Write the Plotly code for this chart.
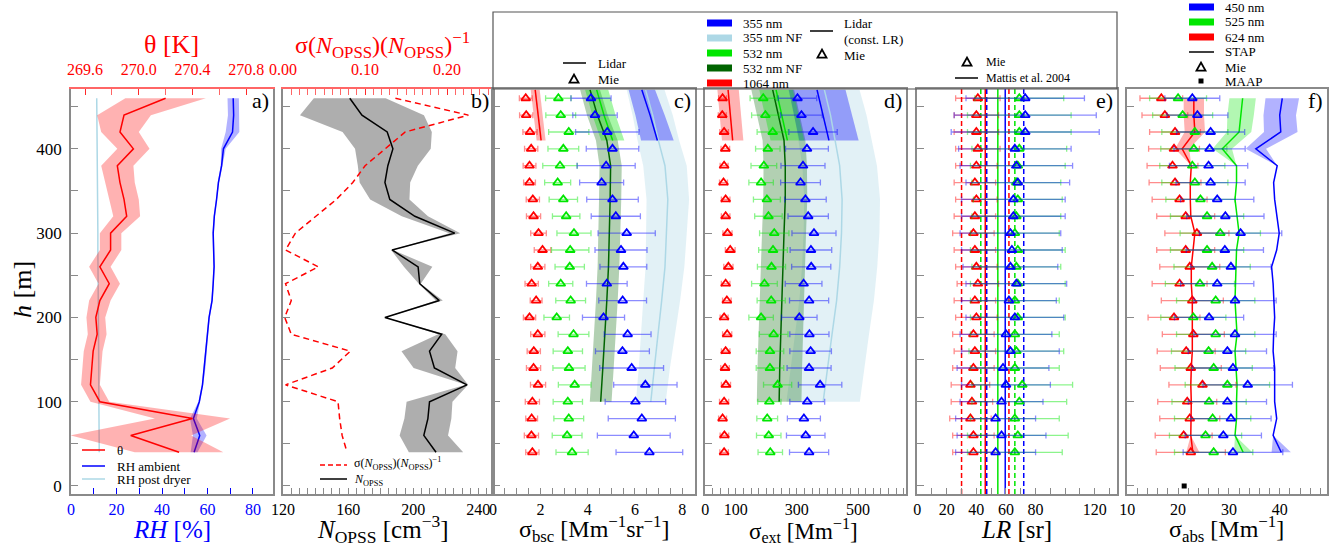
import plotly.graph_objects as go

W, H = 1336, 547
FONT = "Liberation Serif"
FRAME = "#8a8a8a"

# ---------------- data ----------------
heights = [460, 440, 420, 400, 380, 360, 340, 320, 300, 280, 260, 240, 220, 200,
           180, 160, 140, 120, 100, 80, 60, 40]

# panel a
theta = [270.20, 269.89, 269.86, 269.96, 269.84, 269.86, 269.89, 269.91, 269.79, 269.79, 269.71,
         269.78, 269.71, 269.68, 269.69, 269.66, 269.65, 269.64, 269.71, 270.40, 269.94, 270.30]
theta_sd = [0.30, 0.20, 0.14, 0.12, 0.12, 0.11, 0.11, 0.10, 0.08, 0.08, 0.08,
            0.08, 0.08, 0.07, 0.07, 0.07, 0.07, 0.07, 0.07, 0.28, 0.45, 0.33]
rh_ambient = [71.3, 71.5, 71.0, 67.0, 66.2, 64.8, 64.0, 63.0, 62.5, 62.7, 62.9,
              62.5, 62.0, 60.7, 60.0, 59.3, 58.8, 57.8, 56.4, 53.8, 56.6, 54.1]
rh_ambient_sd = [2.5, 2.5, 3.0, 1.0, 0.4, 0.3, 0.3, 0.3, 0.3, 0.3, 0.3,
                 0.3, 0.3, 0.3, 0.3, 0.3, 0.3, 0.3, 0.4, 1.5, 3.0, 1.5]
rh_dryer = [11.3, 11.4, 11.4, 11.5, 11.6, 11.6, 11.7, 11.7, 11.8, 11.8, 11.9,
            11.9, 12.0, 12.0, 12.1, 12.1, 12.2, 12.2, 12.3, 12.3, 12.3, 12.4]

# panel b
n_opss = [161, 168.5, 184, 187.5, 184.4, 182.6, 185.6, 201, 225.5, 187, 203,
          204, 216, 182.6, 217.5, 210, 213, 233, 210, 209, 206.5, 214]
n_rel_sd = [0.137, 0.226, 0.149, 0.124, 0.100, 0.085, 0.065, 0.040, 0.015, 0.003, 0.043,
            0.003, 0.010, 0.002, 0.010, 0.082, 0.060, 0.003, 0.067, 0.069, 0.072, 0.078]

# panel c (backscatter)
bsc_mie_1064 = [1.38, 1.40, 1.56, 1.61, 1.54, 1.54, 1.68, 1.71, 1.92, 2.09, 1.89,
                1.63, 1.82, 1.54, 1.89, 1.72, 1.71, 1.90, 1.66, 1.63, 1.62, 1.66]
bsc_mie_1064_err = [0.27, 0.28, 0.30, 0.28, 0.27, 0.25, 0.28, 0.30, 0.33, 0.35, 0.30,
                    0.28, 0.25, 0.26, 0.30, 0.28, 0.30, 0.32, 0.30, 0.25, 0.30, 0.28]
bsc_mie_532 = [2.76, 2.86, 3.20, 2.97, 2.83, 2.73, 2.97, 3.09, 3.42, 3.26, 3.24,
               2.86, 3.28, 2.69, 3.40, 3.16, 3.21, 3.45, 3.16, 3.20, 3.13, 3.34]
bsc_mie_532_err = [0.54, 0.63, 0.85, 0.65, 0.73, 0.55, 0.60, 0.58, 0.72, 0.79, 0.62,
                   0.51, 0.63, 0.54, 0.65, 0.62, 0.68, 0.69, 0.62, 0.63, 0.63, 0.68]
bsc_mie_355 = [4.14, 4.31, 4.83, 5.05, 4.78, 4.59, 5.05, 5.19, 5.65, 5.41, 5.51,
               4.81, 5.48, 4.67, 5.69, 5.47, 5.86, 6.44, 6.02, 6.29, 5.95, 6.61]
bsc_mie_355_err = [0.85, 0.94, 1.34, 1.11, 1.23, 0.93, 1.09, 1.04, 1.21, 1.10, 0.99,
                   0.86, 1.01, 0.89, 0.99, 1.14, 1.35, 1.34, 1.28, 1.42, 1.54, 1.41]

lidar_nf_h = [470, 440, 410, 380, 340, 300, 260, 220, 180, 140, 100]
lidar_ff_h = [470, 440, 410]
bsc_lid_532nf = [4.10, 4.41, 4.81, 4.97, 4.95, 4.92, 4.88, 4.81, 4.74, 4.64, 4.55]
bsc_lid_532nf_err = [0.42, 0.44, 0.46, 0.47, 0.47, 0.47, 0.46, 0.46, 0.46, 0.46, 0.46]
bsc_lid_355nf = [6.45, 6.75, 6.99, 7.27, 7.39, 7.34, 7.27, 7.13, 6.99, 6.82, 6.67]
bsc_lid_355nf_err = [0.80, 0.85, 0.88, 0.92, 0.90, 0.86, 0.82, 0.78, 0.72, 0.66, 0.63]
bsc_lid_355 = [6.29, 6.64, 6.95]
bsc_lid_355_err = [0.56, 0.62, 0.69]
bsc_lid_532 = [4.38, 4.69, 5.06]
bsc_lid_532_err = [0.49, 0.49, 0.49]
bsc_lid_1064 = [1.78, 1.89, 2.03]
bsc_lid_1064_err = [0.19, 0.19, 0.19]

# panel d (extinction)
ext_mie_1064 = [57, 56, 62, 66, 62, 60, 67, 67, 73, 82, 76, 67, 71, 62, 72, 67, 65, 68, 62, 57, 63, 62]
ext_mie_1064_err = [13, 13, 14, 14, 13, 13, 14, 14, 15, 16, 15, 14, 14, 13, 15, 14, 14, 15, 15, 13, 14, 14]
ext_mie_532 = [190, 197, 221, 205, 192, 183, 202, 207, 226, 222, 217, 194, 216, 183, 224, 212, 212, 237, 210, 203, 208, 213]
ext_mie_532_err = [43, 45, 51, 40, 42, 40, 44, 45, 48, 47, 46, 42, 46, 40, 47, 45, 45, 46, 38, 34, 40, 40]
ext_mie_355 = [302, 315, 353, 333, 320, 312, 328, 337, 356, 346, 347, 322, 340, 308, 341, 345, 340, 376, 334, 323, 329, 340]
ext_mie_355_err = [63, 68, 79, 70, 72, 65, 68, 66, 72, 68, 64, 60, 64, 58, 64, 68, 72, 71, 57, 54, 63, 64]

ext_lid_532nf = [221, 240, 258, 262, 262, 258, 254, 250, 247, 244, 242]
ext_lid_532nf_err = [70, 70, 70, 71, 72, 72, 72, 72, 73, 73, 73]
ext_lid_355nf = [390, 410, 425, 440, 448, 446, 440, 430, 415, 400, 386]
ext_lid_355nf_err = [115, 118, 120, 122, 124, 124, 123, 122, 121, 120, 120]
ext_lid_355 = [366, 386, 405]
ext_lid_355_err = [93, 95, 97]
ext_lid_532 = [232, 250, 269]
ext_lid_532_err = [55, 55, 55]
ext_lid_1064 = [75, 83, 90]
ext_lid_1064_err = [35, 35, 35]

# panel e (lidar ratio)
lr_mie_1064 = [41, 40, 40, 41, 40, 39, 40, 39, 38, 39, 40, 41, 39, 40, 38, 39, 38, 36, 37, 36, 38, 38]
lr_mie_1064_err = [15, 15, 15, 15, 14, 14, 14, 14, 14, 14, 14, 14, 14, 14, 14, 14, 14, 13, 14, 14, 14, 14]
lr_mie_532 = [69, 69, 69, 69, 68, 67, 68, 67, 66, 68, 67, 68, 66, 68, 66, 67, 66, 71, 69, 66, 68, 66]
lr_mie_532_err = [30, 35, 35, 32, 32, 30, 30, 30, 30, 32, 30, 32, 30, 32, 30, 32, 30, 34, 32, 30, 34, 32]
lr_mie_355 = [73, 73, 73, 66, 67, 68, 65, 65, 63, 64, 63, 67, 62, 66, 60, 63, 58, 60, 57, 53, 57, 53]
lr_mie_355_err = [40, 48, 50, 38, 38, 35, 35, 35, 34, 34, 32, 34, 32, 33, 31, 33, 31, 30, 28, 27, 30, 27]
mattis_lr = {"1064": 46.0, "532": 54.5, "355": 59.5}
mattis_sd = {"1064": 16.0, "532": 11.5, "355": 12.5}

# panel f (absorption)
abs_mie_624 = [16.7, 17.4, 19.4, 19.2, 18.9, 19.4, 20.3, 21.5, 23.7, 21.5, 22.3,
               20.3, 22.8, 19.2, 23.0, 21.6, 22.5, 24.8, 21.8, 22.3, 21.1, 22.5]
abs_mie_624_err = [4.2, 4.5, 5.0, 5.0, 5.0, 5.1, 5.4, 5.7, 6.3, 5.7, 5.9,
                   5.4, 6.1, 5.1, 6.1, 5.7, 6.0, 6.6, 5.8, 5.9, 5.6, 6.8]
abs_mie_525 = [20.0, 20.9, 23.3, 23.1, 22.8, 23.3, 24.4, 25.7, 28.3, 25.7, 26.7,
               24.3, 27.4, 23.0, 27.4, 26.0, 27.0, 29.7, 26.1, 26.8, 25.4, 27.0]
abs_mie_525_err = [5.6, 5.9, 6.5, 6.5, 6.4, 6.5, 6.8, 7.2, 7.9, 7.2, 7.5,
                   6.8, 7.7, 6.4, 7.7, 7.3, 7.6, 8.3, 7.3, 7.5, 7.1, 7.7]
abs_mie_450 = [22.8, 23.8, 26.4, 26.2, 26.0, 26.4, 27.7, 29.3, 32.3, 29.2, 30.4,
               27.7, 31.2, 26.1, 31.2, 29.7, 30.8, 33.7, 29.7, 30.4, 28.9, 30.8]
abs_mie_450_err = [5.4, 6.0, 6.7, 7.0, 7.7, 6.8, 7.2, 7.6, 8.1, 7.6, 7.9,
                   7.2, 8.1, 6.8, 8.1, 7.7, 8.0, 8.8, 7.7, 7.9, 7.5, 9.8]
abs_stap_624 = [23.1, 23.1, 23.3, 20.8, 22.6, 22.4, 22.4, 22.5, 23.3, 23.0, 22.6,
                22.6, 22.8, 22.8, 22.8, 22.8, 22.6, 22.5, 22.6, 22.5, 22.5, 22.9]
abs_stap_624_sd = [2.0, 2.0, 2.0, 1.4, 0, 0, 0, 0, 0, 0, 0, 0, 0, 0, 0, 0, 0, 0, 0, 0, 0, 1.3]
abs_stap_525 = [32.7, 32.3, 32.0, 28.7, 31.5, 31.5, 31.2, 31.6, 32.0, 31.5, 31.4,
                31.2, 31.2, 31.4, 31.6, 31.2, 31.4, 31.6, 31.5, 31.5, 31.2, 32.8]
abs_stap_525_sd = [2.6, 2.6, 2.4, 1.9, 0, 0, 0, 0, 0, 0, 0, 0, 0, 0, 0, 0, 0, 0, 0, 0, 0, 1.8]
abs_stap_450 = [40.5, 40.0, 40.2, 35.3, 39.5, 38.8, 39.0, 39.4, 39.9, 39.4, 38.4,
                38.7, 38.9, 39.0, 38.8, 38.7, 39.0, 39.0, 39.0, 39.4, 38.7, 40.3]
abs_stap_450_sd = [3.3, 3.2, 3.3, 2.0, 0, 0, 0, 0, 0, 0, 0, 0, 0, 0, 0, 0, 0, 0, 0, 0, 0, 1.9]
maap_abs = [21.2]
maap_h = [0]

Y_RANGE = [-9.5, 471]

# ---------------- colours ----------------
RED = "#ff0000"
BLUE = "#0000ff"
LBLUE = "#add8e6"
LIME = "#00e600"
DGREEN = "#006400"

def rgba(hexc, a):
    h = hexc.lstrip("#")
    return f"rgba({int(h[0:2],16)},{int(h[2:4],16)},{int(h[4:6],16)},{a})"

fig = go.Figure()

def band(xc, sd, h, color, xa, ya):
    lo = [a - b for a, b in zip(xc, sd)]
    hi = [a + b for a, b in zip(xc, sd)]
    fig.add_trace(go.Scatter(x=lo + hi[::-1], y=list(h) + list(h)[::-1], mode="lines",
                             fill="toself", fillcolor=color, line=dict(width=0),
                             xaxis=xa, yaxis=ya, showlegend=False, hoverinfo="skip"))

def line(xv, h, color, xa, ya, width=1.5, dash="solid"):
    fig.add_trace(go.Scatter(x=xv, y=h, mode="lines", line=dict(color=color, width=width, dash=dash),
                             xaxis=xa, yaxis=ya, showlegend=False))

def mie(xv, err, h, color, xa, ya):
    fig.add_trace(go.Scatter(x=xv, y=h, mode="markers",
                             marker=dict(symbol="triangle-up-open", size=8, color=color,
                                         line=dict(width=1.8, color=color)),
                             error_x=dict(type="data", array=err, color=rgba(color, 0.45),
                                          thickness=1.3, width=3),
                             xaxis=xa, yaxis=ya, showlegend=False))

# ---- panel a ----
band(rh_ambient, rh_ambient_sd, heights, rgba(BLUE, 0.3), "x", "y")
line(rh_ambient, heights, BLUE, "x", "y")
line(rh_dryer, heights, LBLUE, "x", "y")
band(theta, theta_sd, heights, rgba(RED, 0.3), "x2", "y")
line(theta, heights, RED, "x2", "y")

# ---- panel b ----
n_lo = [n * (1 - r) for n, r in zip(n_opss, n_rel_sd)]
n_hi = [n * (1 + r) for n, r in zip(n_opss, n_rel_sd)]
fig.add_trace(go.Scatter(x=n_lo + n_hi[::-1], y=heights + heights[::-1], mode="lines", fill="toself",
                         fillcolor="rgba(120,120,120,0.6)", line=dict(width=0),
                         xaxis="x3", yaxis="y2", showlegend=False, hoverinfo="skip"))
line(n_opss, heights, "black", "x3", "y2")
line(n_rel_sd, heights, RED, "x4", "y2", dash="6px,4px")

# ---- panel c ----
band(bsc_lid_355nf, bsc_lid_355nf_err, lidar_nf_h, rgba(LBLUE, 0.35), "x5", "y3")
band(bsc_lid_532nf, bsc_lid_532nf_err, lidar_nf_h, rgba(DGREEN, 0.3), "x5", "y3")
band(bsc_lid_355, bsc_lid_355_err, lidar_ff_h, rgba(BLUE, 0.35), "x5", "y3")
band(bsc_lid_532, bsc_lid_532_err, lidar_ff_h, rgba(LIME, 0.35), "x5", "y3")
band(bsc_lid_1064, bsc_lid_1064_err, lidar_ff_h, rgba(RED, 0.3), "x5", "y3")
line(bsc_lid_355nf, lidar_nf_h, LBLUE, "x5", "y3")
line(bsc_lid_532nf, lidar_nf_h, DGREEN, "x5", "y3")
line(bsc_lid_355, lidar_ff_h, BLUE, "x5", "y3")
line(bsc_lid_532, lidar_ff_h, LIME, "x5", "y3")
line(bsc_lid_1064, lidar_ff_h, RED, "x5", "y3")
mie(bsc_mie_1064, bsc_mie_1064_err, heights, RED, "x5", "y3")
mie(bsc_mie_532, bsc_mie_532_err, heights, LIME, "x5", "y3")
mie(bsc_mie_355, bsc_mie_355_err, heights, BLUE, "x5", "y3")

# ---- panel d ----
band(ext_lid_355nf, ext_lid_355nf_err, lidar_nf_h, rgba(LBLUE, 0.35), "x6", "y4")
band(ext_lid_532nf, ext_lid_532nf_err, lidar_nf_h, rgba(DGREEN, 0.3), "x6", "y4")
band(ext_lid_355, ext_lid_355_err, lidar_ff_h, rgba(BLUE, 0.35), "x6", "y4")
band(ext_lid_532, ext_lid_532_err, lidar_ff_h, rgba(LIME, 0.35), "x6", "y4")
band(ext_lid_1064, ext_lid_1064_err, lidar_ff_h, rgba(RED, 0.3), "x6", "y4")
line(ext_lid_355nf, lidar_nf_h, LBLUE, "x6", "y4")
line(ext_lid_532nf, lidar_nf_h, DGREEN, "x6", "y4")
line(ext_lid_355, lidar_ff_h, BLUE, "x6", "y4")
line(ext_lid_532, lidar_ff_h, LIME, "x6", "y4")
line(ext_lid_1064, lidar_ff_h, RED, "x6", "y4")
mie(ext_mie_1064, ext_mie_1064_err, heights, RED, "x6", "y4")
mie(ext_mie_532, ext_mie_532_err, heights, LIME, "x6", "y4")
mie(ext_mie_355, ext_mie_355_err, heights, BLUE, "x6", "y4")

# ---- panel e ----
for key, col in (("1064", RED), ("532", LIME), ("355", BLUE)):
    m, s = mattis_lr[key], mattis_sd[key]
    line([m, m], Y_RANGE, col, "x7", "y5")
    line([m - s, m - s], Y_RANGE, col, "x7", "y5", dash="5px,3px")
    line([m + s, m + s], Y_RANGE, col, "x7", "y5", dash="5px,3px")
mie(lr_mie_1064, lr_mie_1064_err, heights, RED, "x7", "y5")
mie(lr_mie_532, lr_mie_532_err, heights, LIME, "x7", "y5")
mie(lr_mie_355, lr_mie_355_err, heights, BLUE, "x7", "y5")

# ---- panel f ----
band(abs_stap_450, abs_stap_450_sd, heights, rgba(BLUE, 0.3), "x8", "y6")
band(abs_stap_525, abs_stap_525_sd, heights, rgba(LIME, 0.3), "x8", "y6")
band(abs_stap_624, abs_stap_624_sd, heights, rgba(RED, 0.3), "x8", "y6")
line(abs_stap_450, heights, BLUE, "x8", "y6")
line(abs_stap_525, heights, LIME, "x8", "y6")
line(abs_stap_624, heights, RED, "x8", "y6")
mie(abs_mie_624, abs_mie_624_err, heights, RED, "x8", "y6")
mie(abs_mie_525, abs_mie_525_err, heights, LIME, "x8", "y6")
mie(abs_mie_450, abs_mie_450_err, heights, BLUE, "x8", "y6")
fig.add_trace(go.Scatter(x=maap_abs, y=maap_h, mode="markers",
                         marker=dict(symbol="square", size=5, color="black"),
                         xaxis="x8", yaxis="y6", showlegend=False))

# ---------------- layout ----------------
def px(x):
    return x / W

def py(y):
    return 1 - y / H

YDOM = [py(494), py(89)]

def xaxis(x0, x1, rng, tickvals, ticktext, minor, anchor, color="black", tickcolor=FRAME, mirror=True):
    return dict(domain=[px(x0), px(x1)], range=rng, anchor=anchor, showgrid=False, zeroline=False,
                automargin=False,
                showline=True, linecolor=FRAME, linewidth=1.5, mirror=mirror,
                ticks="inside", ticklen=6, tickcolor=tickcolor, tickwidth=1,
                tickvals=tickvals, ticktext=ticktext,
                tickfont=dict(family=FONT, size=16, color=color),
                minor=dict(ticks="inside", ticklen=6, tick0=0, dtick=minor, tickcolor=tickcolor,
                           showgrid=False))

def topaxis(overlay, anchor, rng, tickvals, ticktext, minor):
    return dict(overlaying=overlay, side="top", anchor=anchor, range=rng, showgrid=False,
                zeroline=False, automargin=False,
                showline=True, linecolor=rgba(RED, 0.6), linewidth=1.5,
                ticks="inside", ticklen=6, tickcolor=rgba(RED, 0.6),
                tickvals=tickvals, ticktext=ticktext, ticklabelstandoff=6,
                tickfont=dict(family=FONT, size=16, color=RED),
                minor=dict(ticks="inside", ticklen=6, tick0=0, dtick=minor,
                           tickcolor=rgba(RED, 0.6), showgrid=False))

def yaxis(anchor, labels=False):
    d = dict(domain=YDOM, range=Y_RANGE, anchor=anchor, showgrid=False, zeroline=False,
             automargin=False,
             showline=True, linecolor=FRAME, linewidth=1.5, mirror=True,
             ticks="inside", ticklen=7, tickcolor=FRAME,
             tickvals=list(range(0, 451, 50)), showticklabels=labels,
             tickfont=dict(family=FONT, size=17, color="black"))
    if labels:
        d["ticktext"] = ["0", "", "100", "", "200", "", "300", "", "400", ""]
        d["ticklabelstandoff"] = 4
    return d

fig.update_layout(
    width=W, height=H, margin=dict(l=0, r=0, t=0, b=0, autoexpand=False),
    paper_bgcolor="white", plot_bgcolor="white", showlegend=False,
    font=dict(family=FONT),
    xaxis=xaxis(71, 273, [-0.01, 88.8], [0, 20, 40, 60, 80], ["0", "20", "40", "60", "80"], 10, "y",
                color=BLUE, tickcolor=BLUE, mirror=False),
    xaxis2=topaxis("x", "y", [269.495, 271.0], [269.6, 270.0, 270.4, 270.8],
                   ["269.6", "270.0", "270.4", "270.8"], 0.2),
    xaxis3=xaxis(283, 493, [119.99, 249], [120, 160, 200, 240], ["120", "160", "200", "240"], 5, "y2",
                 mirror=False),
    xaxis4=topaxis("x3", "y2", [-0.0001, 0.256], [0, 0.1, 0.2], ["0.00", "0.10", "0.20"], 0.01),
    xaxis5=xaxis(493, 695, [-0.005, 8.54], [0, 2, 4, 6, 8], ["0", "2", "4", "6", "8"], 0.5, "y3"),
    xaxis6=xaxis(705, 906, [-0.5, 657], [0, 100, 300, 500], ["0", "100", "300", "500"], 25, "y4"),
    xaxis7=xaxis(917, 1117, [-0.1, 135], [0, 20, 40, 60, 80, 120],
                 ["0", "20", "40", "60", "80", "120"], 10, "y5"),
    xaxis8=xaxis(1127, 1327, [9.95, 49.3], [10, 20, 30, 40], ["10", "20", "30", "40"], 2, "y6"),
    yaxis=yaxis("x", labels=True),
    yaxis2=yaxis("x3"),
    yaxis3=yaxis("x5"),
    yaxis4=yaxis("x6"),
    yaxis5=yaxis("x7"),
    yaxis6=yaxis("x8"),
)

# ---------------- annotations / legend keys ----------------
annos = []
shapes = []

def text(x, y, s, size=13, color="black", anchor="left", angle=0):
    annos.append(dict(x=px(x), y=py(y), xref="paper", yref="paper", text=s, showarrow=False,
                      xanchor=anchor, yanchor="middle", textangle=angle,
                      font=dict(family=FONT, size=size, color=color)))

def key_line(x0, x1, y, color, width=1.5, dash="solid"):
    shapes.append(dict(type="line", xref="paper", yref="paper", x0=px(x0), x1=px(x1),
                       y0=py(y), y1=py(y), line=dict(color=color, width=width, dash=dash)))

def key_tri(x, y, s=4.5):
    path = (f"M {px(x - s)} {py(y + s * 0.8)} L {px(x + s)} {py(y + s * 0.8)} "
            f"L {px(x)} {py(y - s)} Z")
    shapes.append(dict(type="path", xref="paper", yref="paper", path=path,
                       line=dict(color="black", width=1.8)))

def key_square(x, y, s=2.5):
    shapes.append(dict(type="rect", xref="paper", yref="paper", x0=px(x - s), x1=px(x + s),
                       y0=py(y + s), y1=py(y - s), fillcolor="black", line=dict(width=0)))

NOPSS = "<i>N</i><sub>OPSS</sub>"

# axis titles
text(172, 45, "θ [K]", size=26, color=RED, anchor="center")
text(382, 45, f"σ({NOPSS})({NOPSS})<sup>−1</sup>", size=24, color=RED, anchor="center")
text(172, 529, "<i>RH</i> [%]", size=25, color=BLUE, anchor="center")
text(383, 529, f"{NOPSS} [cm<sup>−3</sup>]", size=25, anchor="center")
text(594, 529, "σ<sub>bsc</sub> [Mm<sup>−1</sup>sr<sup>−1</sup>]", size=24, anchor="center")
text(803, 530, "σ<sub>ext</sub> [Mm<sup>−1</sup>]", size=23, anchor="center")
text(1016, 529, "<i>LR</i> [sr]", size=25, anchor="center")
text(1226, 529, "σ<sub>abs</sub> [Mm<sup>−1</sup>]", size=24, anchor="center")
text(22, 290, "<i>h</i> [m]", size=26, anchor="center", angle=-90)

# panel labels
for lab, xr in (("a)", 271), ("b)", 491), ("c)", 693), ("d)", 904), ("e)", 1115), ("f)", 1325)):
    text(xr, 101, lab, size=22, anchor="right")

# legend box around c-e keys
shapes.append(dict(type="rect", xref="paper", yref="paper", x0=px(493), x1=px(1117),
                   y0=py(89), y1=py(12), line=dict(color="#555555", width=1.2)))

# legend a
key_line(82, 105, 450, RED)
text(115, 450, "θ")
key_line(82, 105, 466, BLUE)
text(115, 466, "RH ambient")
key_line(82, 105, 479, LBLUE)
text(115, 479, "RH post dryer")

# legend b
key_line(320, 347, 465, RED, dash="5px,3px")
text(352, 464, f"σ({NOPSS})({NOPSS})<sup>−1</sup>", size=12)
key_line(320, 347, 479, "black")
text(352, 480, NOPSS, size=12)

# legend c
key_line(563, 586, 63, "black")
text(596, 63, "Lidar")
key_tri(574, 79)
text(596, 79, "Mie")

# legend d
for yy, col, lab in ((23, BLUE, "355 nm"), (38, LBLUE, "355 nm NF"), (53, LIME, "532 nm"),
                     (68, DGREEN, "532 nm NF"), (83, RED, "1064 nm")):
    key_line(707, 732, yy, col, width=7)
    text(741, yy, lab)
key_line(810, 833, 31, "black")
text(842, 24, "Lidar")
text(842, 40, "(const. LR)")
key_tri(822, 54)
text(842, 55, "Mie")

# legend e
key_tri(967, 62)
text(984, 62, "Mie", size=12)
key_line(955, 978, 78, "black")
text(984, 78, "Mattis et al. 2004", size=12)

# legend f
for yy, col, lab in ((7, BLUE, "450 nm"), (22, LIME, "525 nm"), (37, RED, "624 nm")):
    key_line(1189, 1214, yy, col, width=7)
    text(1223, yy, lab)
key_line(1189, 1214, 52, "black")
text(1223, 52, "STAP")
key_tri(1201, 67)
text(1223, 67, "Mie")
key_square(1201, 81)
text(1223, 81, "MAAP")

fig.update_layout(annotations=annos, shapes=shapes)

fig.write_html("out.html", config={"displayModeBar": False},
               post_script="document.body.style.margin='0';document.body.style.overflow='hidden';")
